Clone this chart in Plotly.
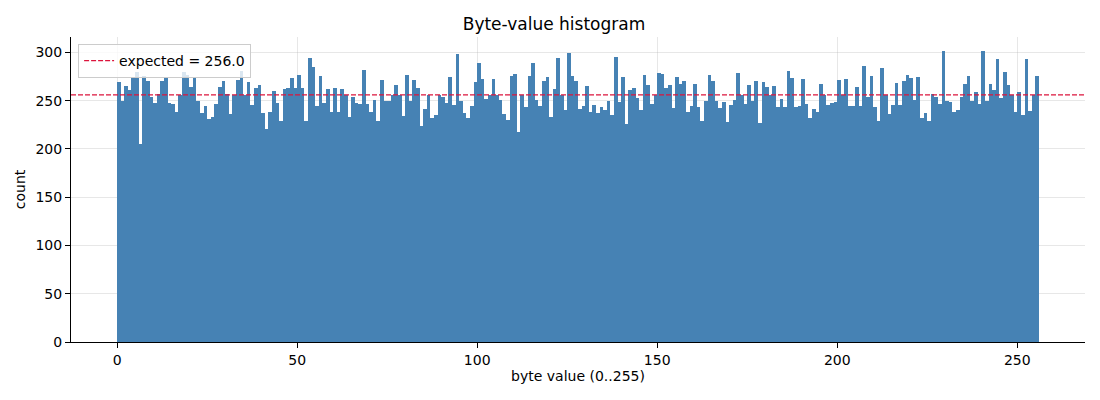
import numpy as np
import plotly.graph_objects as go

# counts per byte value
byte_values = np.arange(256)
counts = [
    269, 250, 265, 261, 274, 280, 205, 276, 270, 254, 248, 257, 270, 275, 248, 247,
    238, 256, 280, 277, 264, 274, 250, 237, 245, 231, 233, 247, 264, 270, 257, 236,
    256, 271, 281, 256, 269, 246, 263, 266, 237, 221, 238, 260, 248, 229, 262, 263,
    274, 263, 277, 263, 229, 294, 285, 244, 276, 248, 262, 238, 263, 238, 262, 256,
    233, 254, 248, 247, 282, 247, 238, 251, 229, 271, 250, 250, 256, 266, 256, 234,
    277, 250, 271, 263, 224, 241, 256, 232, 235, 256, 254, 248, 275, 246, 298, 250,
    237, 232, 244, 269, 289, 273, 252, 256, 272, 256, 251, 236, 230, 276, 278, 218,
    256, 243, 276, 289, 251, 245, 270, 275, 233, 262, 294, 256, 240, 299, 276, 270,
    241, 244, 265, 238, 246, 237, 243, 240, 250, 235, 295, 249, 275, 226, 261, 263,
    253, 240, 277, 266, 247, 256, 279, 278, 263, 266, 242, 275, 267, 270, 238, 245,
    267, 243, 229, 250, 277, 270, 250, 242, 249, 228, 246, 251, 279, 256, 247, 266,
    250, 270, 227, 269, 264, 256, 265, 243, 252, 243, 281, 274, 243, 244, 272, 247,
    232, 241, 238, 267, 256, 246, 248, 249, 271, 256, 273, 244, 245, 264, 244, 286,
    254, 276, 243, 229, 284, 256, 236, 246, 268, 246, 270, 277, 274, 251, 275, 232,
    237, 229, 257, 254, 247, 301, 250, 249, 238, 240, 254, 267, 276, 250, 259, 247,
    301, 250, 267, 261, 293, 253, 280, 266, 256, 238, 259, 235, 293, 239, 256, 276,
]
expected = 256.0
x_ticks = [0, 50, 100, 150, 200, 250]
y_ticks = [0, 50, 100, 150, 200, 250, 300]

font = "DejaVu Sans"
grid = "rgba(176,176,176,0.3)"

# page body has an 8px margin, so the figure is 8px smaller than the window
fig_w, fig_h = 1092, 392

fig = go.Figure()
fig.add_trace(go.Bar(x=byte_values, y=counts, offset=0, width=1,
                     marker=dict(color="steelblue", line_width=0),
                     showlegend=False, hoverinfo="x+y"))

fig.add_hline(y=expected, line=dict(color="crimson", width=1.2, dash="5px,2px"),
              showlegend=True, name=f"expected = {expected:.1f}")

fig.update_layout(
    width=fig_w, height=fig_h,
    margin=dict(l=63, r=15, t=29, b=58),
    plot_bgcolor="white", paper_bgcolor="white",
    font=dict(family=font, size=14, color="black"),
    bargap=0,
    title=dict(text="Byte-value histogram", x=0.5, xanchor="center",
               y=1 - 16 / fig_h, yanchor="middle", yref="container",
               font=dict(size=17)),
    legend=dict(x=0.007, y=0.977, xanchor="left", yanchor="top",
                bgcolor="rgba(255,255,255,0.8)", bordercolor="#cccccc",
                borderwidth=1, font=dict(size=14),
                itemwidth=30, tracegroupgap=0),
)
fig.update_xaxes(range=[-12.8, 268.8], tickvals=x_ticks, showgrid=True,
                 gridcolor=grid, gridwidth=1, layer="above traces",
                 showline=True, linecolor="black", linewidth=1,
                 ticks="outside", ticklen=5, tickcolor="black",
                 tickfont=dict(size=14), zeroline=False, automargin=False,
                 title=dict(text="byte value (0..255)", standoff=3,
                            font=dict(size=14)))
fig.update_yaxes(range=[0, 316], tickvals=y_ticks, showgrid=True,
                 gridcolor=grid, gridwidth=1, layer="above traces",
                 showline=True, linecolor="black", linewidth=1,
                 ticks="outside", ticklen=5, tickcolor="black",
                 tickfont=dict(size=14), zeroline=False, automargin=False,
                 title=dict(text="count", standoff=6, font=dict(size=14)))

fig.write_html("out.html")
